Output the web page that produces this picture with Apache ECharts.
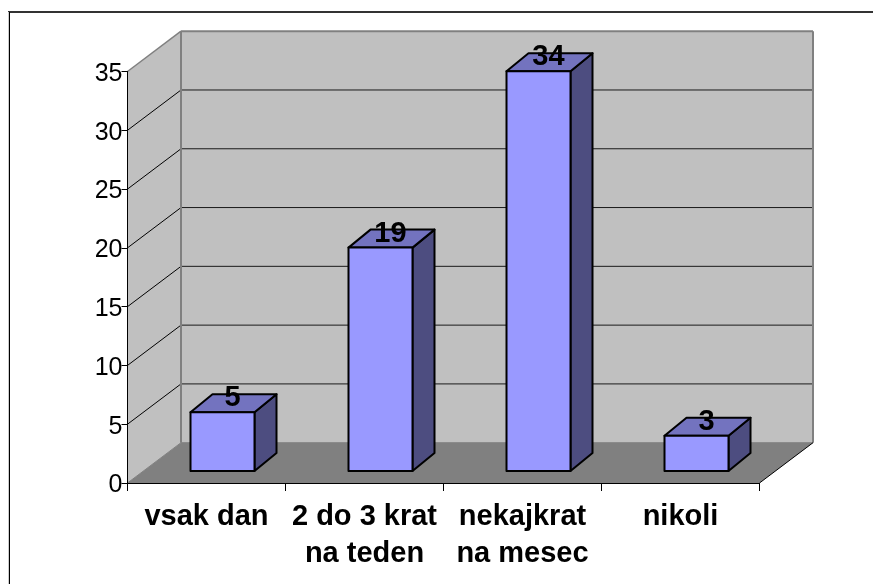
<!DOCTYPE html>
<html><head><meta charset="utf-8">
<style>html,body{margin:0;padding:0;background:#fff}#c{width:873px;height:584px}</style>
<script src="https://cdn.jsdelivr.net/npm/echarts@6/dist/echarts.min.js"></script>
</head><body><div id="c"></div>
<script>
const categories = ['vsak dan', '2 do 3 krat\nna teden', 'nekajkrat\nna mesec', 'nikoli'];
const values = [5, 19, 34, 3];
const valueTicks = [0, 5, 10, 15, 20, 25, 30, 35];

const FONT = '"Liberation Sans", Arial, sans-serif';
const WALL_DX = 53.5, WALL_DY = -40.3;
const DEPTH_DX = 22, DEPTH_DY = -18;
const BAR_DX = 16, BAR_DY = -12;
const BAR_RATIO = 64 / 158;

const chart = echarts.init(document.getElementById('c'), null, {renderer: 'canvas'});

function poly(points, fill) {
  return {type: 'polygon', shape: {points}, style: {fill: fill, stroke: 'none'}};
}
function line(x1, y1, x2, y2, stroke, lineWidth) {
  return {type: 'line', shape: {x1, y1, x2, y2}, style: {stroke, lineWidth}};
}

function renderWalls(params, api) {
  const cs = params.coordSys;
  const x0 = cs.x, x1 = cs.x + cs.width, y0 = cs.y + cs.height, y1 = cs.y;
  const dx = WALL_DX, dy = WALL_DY;
  const children = [
    poly([[x0 + dx, y1 + dy], [x1 + dx, y1 + dy], [x1 + dx, y0 + dy], [x0 + dx, y0 + dy]], '#C0C0C0'),
    poly([[x0, y1], [x0 + dx, y1 + dy], [x0 + dx, y0 + dy], [x0, y0]], '#C0C0C0'),
    poly([[x0, y0], [x1, y0], [x1 + dx, y0 + dy], [x0 + dx, y0 + dy]], '#808080')
  ];
  valueTicks.forEach(function (v) {
    const y = api.coord([0, v])[1];
    if (v > 0 && v < valueTicks[valueTicks.length - 1]) {
      children.push(line(x0, y, x0 + dx, y + dy, '#000', 1));
      children.push(line(x0 + dx, y + dy, x1 + dx, y + dy, '#1a1a1a', 1));
    }
  });
  children.push(line(x0, y1, x0 + dx, y1 + dy, '#808080', 1.5));
  children.push(line(x0 + dx, y1 + dy, x1 + dx, y1 + dy, '#808080', 2));
  children.push(line(x0 + dx, y1 + dy, x0 + dx, y0 + dy, '#808080', 2));
  children.push(line(x1 + dx, y1 + dy, x1 + dx, y0 + dy, '#808080', 2));
  children.push(line(x0 + dx, y0 + dy, x1 + dx, y0 + dy, '#808080', 1));
  children.push(line(x0, y0, x0 + dx, y0 + dy, '#808080', 1));
  children.push(line(x1, y0, x1 + dx, y0 + dy, '#000', 1));
  return {type: 'group', children};
}

function renderBar(params, api) {
  const c = api.value(0), v = api.value(1);
  const top = api.coord([c, v]), base = api.coord([c, 0]);
  const w = api.size([1, 0])[0] * BAR_RATIO;
  const l = top[0] + BAR_DX - w / 2, r = l + w;
  const t = top[1] + BAR_DY, b = base[1] + BAR_DY;
  const dx = DEPTH_DX, dy = DEPTH_DY;
  const S = {stroke: '#000', lineWidth: 2, lineJoin: 'round'};
  function p(points, fill) { return {type: 'polygon', shape: {points}, style: Object.assign({fill}, S)}; }
  return {type: 'group', children: [
    p([[r, t], [r + dx, t + dy], [r + dx, b + dy], [r, b]], '#4D4D80'),
    p([[l, t], [l + dx, t + dy], [r + dx, t + dy], [r, t]], '#7373BF'),
    p([[l, t], [r, t], [r, b], [l, b]], '#9999FF'),
    {type: 'text', z2: 10, style: {
      text: String(v), x: (l + r + dx) / 2 - 1, y: t + dy / 2 - 5,
      align: 'center', verticalAlign: 'middle',
      font: 'bold 29px ' + FONT, fill: '#000'
    }}
  ]};
}

chart.setOption({
  animation: false,
  backgroundColor: '#fff',
  grid: {left: 127.5, top: 71.5, width: 632, height: 411.5, containLabel: false},
  xAxis: {
    type: 'category', data: categories, z: 6,
    axisLine: {lineStyle: {color: '#000', width: 1}},
    axisTick: {show: true, alignWithLabel: false, length: 8, lineStyle: {color: '#000'}},
    axisLabel: {color: '#000', fontFamily: FONT, fontWeight: 'bold', fontSize: 29, lineHeight: 37, margin: 15, interval: 0},
    splitLine: {show: false}
  },
  yAxis: {
    type: 'value', min: 0, max: 35, interval: 5, z: 6,
    axisLine: {show: true, lineStyle: {color: '#000', width: 1}},
    axisTick: {show: true, length: 6, lineStyle: {color: '#000'}},
    axisLabel: {color: '#000', fontFamily: FONT, fontSize: 25, margin: 5, verticalAlign: 'top', lineHeight: 5},
    splitLine: {show: false}
  },
  graphic: [
    {type: 'line', silent: true, z: 100, shape: {x1: 8, y1: 12, x2: 873, y2: 12}, style: {stroke: '#333', lineWidth: 2}},
    {type: 'line', silent: true, z: 100, shape: {x1: 9.5, y1: 12, x2: 9.5, y2: 584}, style: {stroke: '#000', lineWidth: 1}},
    {type: 'line', silent: true, z: 100, shape: {x1: 8.5, y1: 12, x2: 8.5, y2: 584}, style: {stroke: '#ccc', lineWidth: 1}}
  ],
  series: [
    {type: 'custom', silent: true, z: 1, renderItem: renderWalls, data: [[0, 0]], encode: {x: 0, y: 1}},
    {type: 'custom', silent: true, z: 3, renderItem: renderBar, encode: {x: 0, y: 1},
     data: values.map(function (v, i) { return [i, v]; })}
  ]
});
</script></body></html>
